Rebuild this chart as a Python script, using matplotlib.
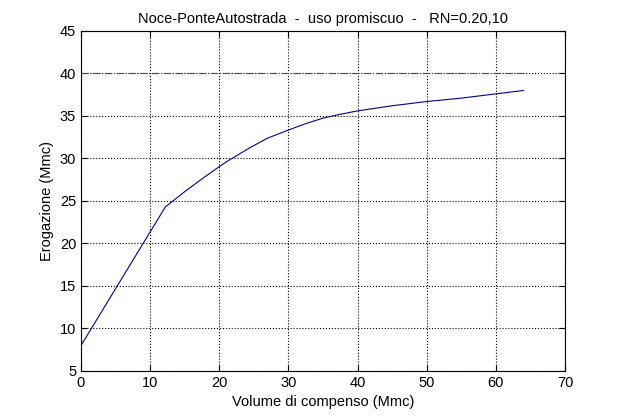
import numpy as np
import matplotlib
matplotlib.use("Agg")
import matplotlib.pyplot as plt

plt.rcParams['font.family'] = ['Liberation Sans', 'DejaVu Sans']

# curve
volume = [0, 12.2, 15, 18, 21, 24.5, 27, 30, 32.5, 35, 37.5, 40, 45, 50, 55, 60, 64.0]
erogazione = [8.0, 24.3, 26.1, 27.9, 29.6, 31.3, 32.4, 33.35, 34.1, 34.75, 35.2, 35.6,
              36.2, 36.7, 37.1, 37.6, 38.0]
soglia_x = [0, 64.0]
soglia_y = [40, 40]

fig = plt.figure(figsize=(6.23, 4.19), dpi=100)
ax = fig.add_axes([0.130, 0.1146, 0.777, 0.8115])

ax.plot(volume, erogazione, color='#0000a0', lw=0.8, zorder=3)
ax.plot(soglia_x, soglia_y, color='#008000', lw=0.8, ls='-.', zorder=3)

ax.set_xlim(0, 70)
ax.set_ylim(5, 45)
ax.set_xticks(np.arange(0, 71, 10))
ax.set_yticks(np.arange(5, 46, 5))
ax.set_axisbelow(True)
ax.grid(True, ls=':', color='k', lw=0.8)
ax.tick_params(direction='in', labelsize=10.5, top=True, right=True, length=4)
for s in ax.spines.values():
    s.set_linewidth(0.8)

ax.set_title("Noce-PonteAutostrada  -  uso promiscuo  -   RN=0.20,10", fontsize=10.5)
ax.set_xlabel("Volume di compenso (Mmc)", fontsize=10.5)
ax.set_ylabel("Erogazione (Mmc)", fontsize=10.5)

fig.savefig("out.png", dpi=100)
